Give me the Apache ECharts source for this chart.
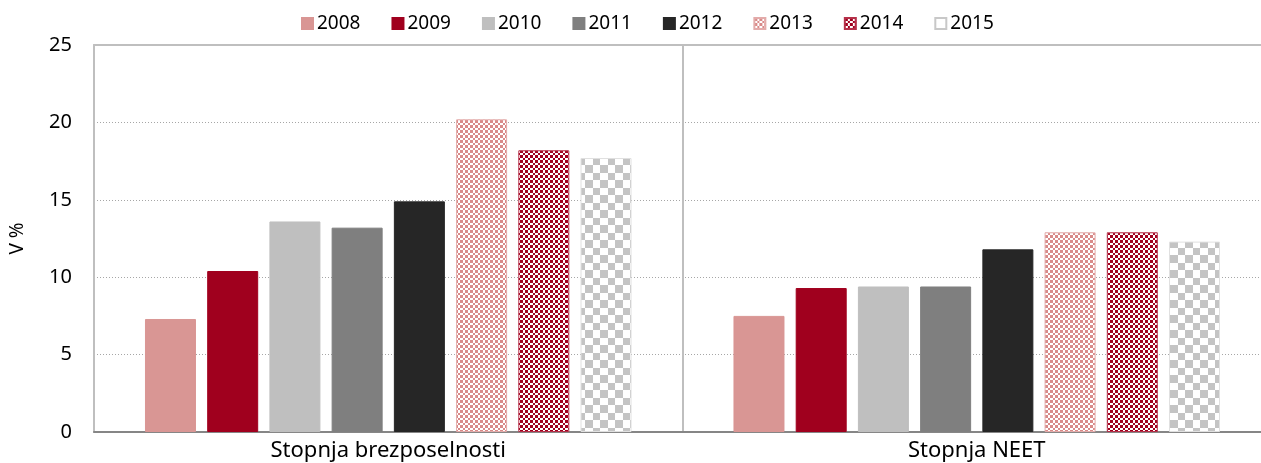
<!DOCTYPE html>
<html>
<head>
<meta charset="utf-8">
<script src="https://cdn.jsdelivr.net/npm/echarts@6/dist/echarts.min.js"></script>
<style>html,body{margin:0;padding:0;background:#fff;overflow:hidden;width:1261px;height:463px;}#c{width:1280px;height:463px;}</style>
</head>
<body>
<div id="c"></div>
<script>
const categories = ['Stopnja brezposelnosti', 'Stopnja NEET'];
const years = ['2008', '2009', '2010', '2011', '2012', '2013', '2014', '2015'];
const v2008 = [7.3, 7.5];
const v2009 = [10.4, 9.3];
const v2010 = [13.6, 9.4];
const v2011 = [13.2, 9.4];
const v2012 = [14.9, 11.8];
const v2013 = [20.2, 12.9];
const v2014 = [18.2, 12.9];
const v2015 = [17.7, 12.3];
const yTicks = [0, 5, 10, 15, 20, 25];

const seriesValues = [v2008, v2009, v2010, v2011, v2012, v2013, v2014, v2015];

function checker(col, sizes) {
  const total = sizes.reduce((a, b) => a + b, 0);
  const cv = document.createElement('canvas');
  cv.width = total; cv.height = total;
  const ctx = cv.getContext('2d');
  ctx.fillStyle = '#ffffff';
  ctx.fillRect(0, 0, total, total);
  ctx.fillStyle = col;
  let y = 0;
  for (let j = 0; j < sizes.length; j++) {
    let x = 0;
    for (let i = 0; i < sizes.length; i++) {
      if ((i + j) % 2 === 0) ctx.fillRect(x, y, sizes[i], sizes[j]);
      x += sizes[i];
    }
    y += sizes[j];
  }
  return { image: cv, repeat: 'repeat' };
}

const styles = [
  { color: '#d99694', borderColor: '#d99694' },
  { color: '#a0001e', borderColor: '#a0001e' },
  { color: '#bfbfbf', borderColor: '#bfbfbf' },
  { color: '#7f7f7f', borderColor: '#7f7f7f' },
  { color: '#262626', borderColor: '#262626' },
  { color: checker('#d98a89', [3, 2, 3, 2]), borderColor: '#e3abaa' },
  { color: checker('#a0001e', [3, 2, 3, 2]), borderColor: '#b53049' },
  { color: checker('#c4c4c4', [8, 7]), borderColor: '#e0e0e0' }
];

const legendData = years.map((y, i) => {
  if (i === 7) return { name: y, itemStyle: { color: '#ffffff', borderColor: '#c8c8c8', borderWidth: 2 } };
  return { name: y };
});

const FONT = 'Noto Sans';

const chart = echarts.init(document.getElementById('c'), null, { renderer: 'canvas' });
chart.setOption({
  animation: false,
  backgroundColor: '#ffffff',
  textStyle: { fontFamily: FONT },
  legend: {
    top: 9,
    left: 296,
    itemWidth: 11,
    itemHeight: 11,
    itemGap: 31,
    icon: 'rect',
    textStyle: { fontSize: 19, color: '#000', fontFamily: FONT, padding: [0, 0, 0, -1] },
    data: legendData
  },
  grid: {
    left: 93, right: 9, top: 45, bottom: 31,
    show: false, containLabel: false
  },
  xAxis: [{
    type: 'category',
    data: categories,
    axisLine: { show: true, lineStyle: { color: '#868686', width: 2 } },
    axisTick: { show: false },
    axisLabel: { fontSize: 22, color: '#000', margin: 8, fontFamily: FONT },
    splitLine: { show: true, lineStyle: { color: '#bfbfbf', width: 2 } }
  }, {
    type: 'category',
    position: 'top',
    data: categories,
    axisLine: { show: true, lineStyle: { color: '#bfbfbf', width: 2 } },
    axisTick: { show: false },
    axisLabel: { show: false },
    splitLine: { show: false }
  }],
  yAxis: {
    type: 'value',
    min: 0, max: 25, interval: 5,
    name: 'V %',
    nameLocation: 'middle',
    nameGap: 67,
    nameRotate: 90,
    nameTextStyle: { fontSize: 19, color: '#000', fontFamily: FONT },
    axisLine: { show: true, lineStyle: { color: '#bfbfbf', width: 2 } },
    axisTick: { show: false },
    axisLabel: {
      fontSize: 20, color: '#000', margin: 22, fontFamily: FONT,
      formatter: v => yTicks.includes(v) ? String(v) : ''
    },
    splitLine: { show: true, lineStyle: { color: '#a6a6a6', width: 1, type: [1, 2] } }
  },
  series: years.map((y, i) => ({
    name: y,
    type: 'bar',
    xAxisIndex: 0,
    data: seriesValues[i],
    barWidth: 51,
    barGap: '22%',
    itemStyle: Object.assign({ borderWidth: 1 }, styles[i])
  }))
});
</script>
</body>
</html>
